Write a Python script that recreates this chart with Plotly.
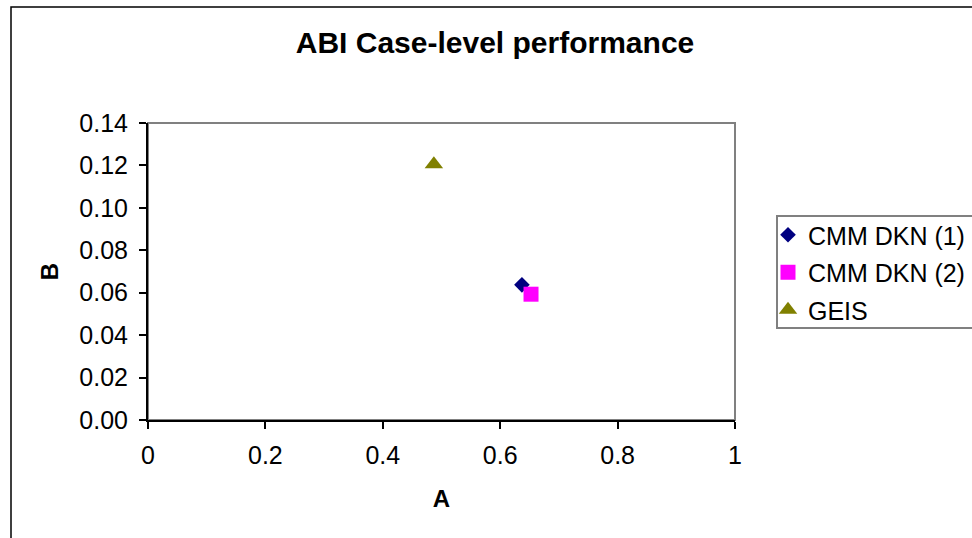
import plotly.graph_objects as go

# Data
series_names = ["CMM DKN (1)", "CMM DKN (2)", "GEIS"]
series_a = [0.637, 0.6525, 0.487]
series_b = [0.0637, 0.0593, 0.1205]
series_colors = ["#000080", "#FF00FF", "#808000"]
series_symbols = ["diamond", "square", "triangle-up"]
series_sizes = [12, 15, 16]

x_ticks = [0, 0.2, 0.4, 0.6, 0.8, 1]
y_ticks = [0, 0.02, 0.04, 0.06, 0.08, 0.10, 0.12, 0.14]

W, H = 972, 538
L, R, T, B = 148, 735, 123, 420
pw, ph = R - L, B - T

def px(xp):
    return (xp - L) / pw

def py(yp):
    return (B - yp) / ph

FONT = "Liberation Sans, Arial, sans-serif"

fig = go.Figure()
for i, name in enumerate(series_names):
    fig.add_trace(go.Scatter(
        x=[series_a[i]], y=[series_b[i]], mode="markers", name=name,
        legendgroup=name,
        marker=dict(symbol=series_symbols[i], size=series_sizes[i],
                    color=series_colors[i], line=dict(width=0)),
    ))

shapes = [
    # outer chart frame
    dict(type="rect", xref="paper", yref="paper",
         x0=px(11), x1=px(990), y0=py(560), y1=py(7),
         line=dict(color="black", width=1.5), layer="below"),
    # plot area border (gray)
    dict(type="rect", xref="paper", yref="paper",
         x0=0, x1=1, y0=0, y1=1,
         line=dict(color="#808080", width=2), layer="below"),
    # legend frame
    dict(type="rect", xref="paper", yref="paper",
         x0=px(777), x1=px(1000), y0=py(328), y1=py(216),
         line=dict(color="#808080", width=2), layer="below"),
]

fig.update_layout(
    width=W, height=H,
    margin=dict(l=L, r=W - R, t=T, b=H - B, autoexpand=False),
    paper_bgcolor="white", plot_bgcolor="white",
    font=dict(family=FONT, size=25, color="black"),
    title=dict(text="<b>ABI Case-level performance</b>",
               font=dict(family=FONT, size=30, color="black"),
               x=px(495), xref="paper", xanchor="center",
               y=1 - 42 / H, yanchor="middle"),
    showlegend=True,
    legend=dict(x=px(768), y=py(212), xanchor="left", yanchor="top",
                bgcolor="rgba(0,0,0,0)", borderwidth=0,
                font=dict(family=FONT, size=25, color="black"),
                traceorder="grouped", tracegroupgap=2,
                itemsizing="trace"),
    shapes=shapes,
)

fig.update_xaxes(
    range=[0, 1], tickvals=x_ticks, ticktext=[f"{v:g}" for v in x_ticks],
    showgrid=False, zeroline=False, showline=True, linecolor="black", linewidth=2,
    ticks="outside", ticklen=7, tickcolor="black", tickwidth=1.5,
    ticklabelstandoff=5,
    title=dict(text="<b>A</b>", font=dict(family=FONT, size=24), standoff=22),
    tickfont=dict(family=FONT, size=25),
)
fig.update_yaxes(
    range=[0, 0.14], tickvals=y_ticks, ticktext=[f"{v:.2f}" for v in y_ticks],
    showgrid=False, zeroline=False, showline=True, linecolor="black", linewidth=2,
    ticks="outside", ticklen=7, tickcolor="black", tickwidth=1.5,
    ticklabelstandoff=6,
    title=dict(text="<b>B</b>", font=dict(family=FONT, size=24), standoff=14),
    tickfont=dict(family=FONT, size=25),
)

fig.write_html("out.html")
